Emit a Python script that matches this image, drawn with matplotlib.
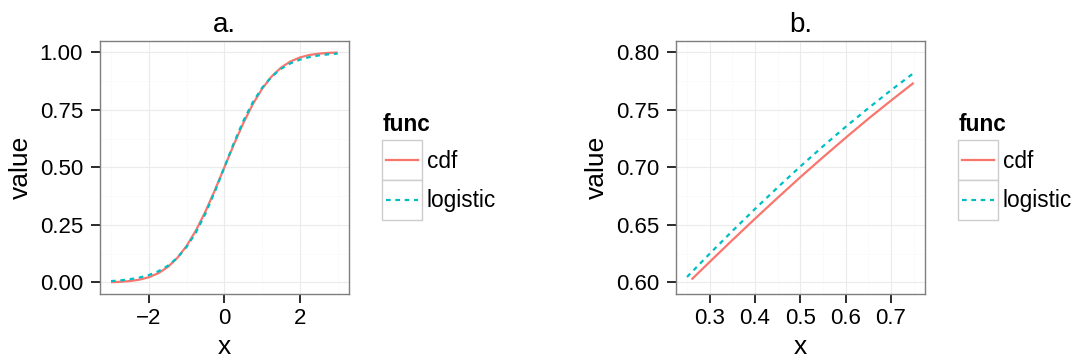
import matplotlib
matplotlib.use("Agg")
import matplotlib.pyplot as plt
from matplotlib.patches import Rectangle
from matplotlib.lines import Line2D

plt.rcParams['font.family'] = ['Liberation Sans', 'DejaVu Sans']

# ---------------- data ----------------
# panel a
xa = [-3.0, -2.75, -2.5, -2.25, -2.0, -1.75, -1.5, -1.25, -1.0, -0.75, -0.5, -0.25, 0.0,
      0.25, 0.5, 0.75, 1.0, 1.25, 1.5, 1.75, 2.0, 2.25, 2.5, 2.75, 3.0]
cdf_a = [0.0013, 0.0030, 0.0062, 0.0122, 0.0228, 0.0401, 0.0668, 0.1056, 0.1587, 0.2266,
         0.3085, 0.4013, 0.5000, 0.5987, 0.6915, 0.7734, 0.8413, 0.8944, 0.9332, 0.9599,
         0.9772, 0.9878, 0.9938, 0.9970, 0.9987]
logistic_a = [0.0060, 0.0092, 0.0140, 0.0213, 0.0322, 0.0484, 0.0722, 0.1064, 0.1542, 0.2181,
              0.2992, 0.3952, 0.5000, 0.6048, 0.7008, 0.7819, 0.8458, 0.8936, 0.9278, 0.9516,
              0.9678, 0.9787, 0.9860, 0.9908, 0.9940]

# panel b
xb_cdf = [0.26, 0.30, 0.35, 0.40, 0.45, 0.50, 0.55, 0.60, 0.65, 0.70, 0.75]
cdf_b = [0.6026, 0.6179, 0.6368, 0.6554, 0.6736, 0.6915, 0.7088, 0.7257, 0.7422, 0.7580, 0.7734]
xb_log = [0.25, 0.30, 0.35, 0.40, 0.45, 0.50, 0.55, 0.60, 0.65, 0.70, 0.75]
logistic_b = [0.6048, 0.6250, 0.6447, 0.6639, 0.6826, 0.7008, 0.7183, 0.7352, 0.7514, 0.7670, 0.7819]

titles = ["a.", "b."]
legend_title = "func"
legend_labels = ["cdf", "logistic"]

# ---------------- style ----------------
W, H = 1074, 358
DPI = 100
RED = "#F8766D"
CYAN = "#00BFC4"
LW = 1.6
DASH = (0, (2.1, 2.1))

fig = plt.figure(figsize=(W / DPI, H / DPI), dpi=DPI)
fig.patch.set_facecolor("white")


def fx(px):
    return px / W


def fy(py):
    return (H - py) / H


def make_axes(left_px):
    left, right, top, bottom = left_px, left_px + 249.3, 40.7, 294.0
    return fig.add_axes([fx(left), fy(bottom), (right - left) / W, (bottom - top) / H])


def style_axes(ax, xlim, ylim, xmaj, xmin, ymaj, ymin, xfmt, yfmt, title):
    ax.set_xlim(*xlim)
    ax.set_ylim(*ylim)
    for v in xmin:
        ax.axvline(v, color="#FAFAFA", lw=0.6, zorder=0)
    for v in ymin:
        ax.axhline(v, color="#FAFAFA", lw=0.6, zorder=0)
    for v in xmaj:
        ax.axvline(v, color="#EBEBEB", lw=0.8, zorder=0.5)
    for v in ymaj:
        ax.axhline(v, color="#EBEBEB", lw=0.8, zorder=0.5)
    ax.set_xticks(xmaj)
    ax.set_xticklabels([xfmt(v) for v in xmaj])
    ax.set_yticks(ymaj)
    ax.set_yticklabels([yfmt(v) for v in ymaj])
    ax.tick_params(axis="both", length=6.5, width=1.3, color="#1A1A1A",
                   labelsize=16, labelcolor="black")
    ax.tick_params(axis="x", pad=3.5)
    ax.tick_params(axis="y", pad=5.5)
    for s in ax.spines.values():
        s.set_color("#7F7F7F")
        s.set_linewidth(1.0)
        s.set_zorder(5)
    ax.set_title(title, fontsize=20, pad=6)
    ax.set_xlabel("x", fontsize=19)
    ax.xaxis.set_label_coords(0.5, -0.237)
    ax.xaxis.label.set_va("baseline")
    ax.set_ylabel("value", fontsize=19)
    ax.yaxis.set_label_coords(-0.316, 0.5)
    ax.yaxis.label.set_va("center")
    ax.yaxis.label.set_ha("center")


def legend(left_px):
    fig.text(fx(left_px + 0.6), fy(130.7), legend_title, fontsize=16.3, fontweight="bold",
             ha="left", va="baseline")
    keys = [(140.0, RED, "-"), (180.0, CYAN, DASH)]
    for (top, color, ls), lab in zip(keys, legend_labels):
        fig.add_artist(Rectangle((fx(left_px), fy(top + 39.5)), 40.3 / W, 39.5 / H,
                                 transform=fig.transFigure, facecolor="white",
                                 edgecolor="#CCCCCC", lw=1.0))
        cy = top + 20
        fig.add_artist(Line2D([fx(left_px + 4), fx(left_px + 36)], [fy(cy), fy(cy)],
                              transform=fig.transFigure, color=color, lw=LW, linestyle=ls))
        fig.text(fx(left_px + 45), fy(cy + 7.5), lab, fontsize=16.3, ha="left", va="baseline")


# ---------------- panel a ----------------
ax1 = make_axes(99.7)
style_axes(ax1, (-3.3, 3.3), (-0.05, 1.05),
           [-2, 0, 2], [-3, -1, 1, 3],
           [0, 0.25, 0.5, 0.75, 1.0], [0.125, 0.375, 0.625, 0.875],
           lambda v: "\u2212" + str(abs(int(v))) if v < 0 else str(int(v)),
           lambda v: f"{v:.2f}", titles[0])
ax1.plot(xa, cdf_a, color=RED, lw=LW, zorder=3, solid_capstyle="butt")
ax1.plot(xa, logistic_a, color=CYAN, lw=LW, linestyle=DASH, zorder=4)
legend(381.7)

# ---------------- panel b ----------------
ax2 = make_axes(675.7)
style_axes(ax2, (0.225, 0.775), (0.59, 0.81),
           [0.3, 0.4, 0.5, 0.6, 0.7], [0.25, 0.35, 0.45, 0.55, 0.65, 0.75],
           [0.60, 0.65, 0.70, 0.75, 0.80], [0.625, 0.675, 0.725, 0.775],
           lambda v: f"{v:.1f}", lambda v: f"{v:.2f}", titles[1])
ax2.plot(xb_cdf, cdf_b, color=RED, lw=LW, zorder=3, solid_capstyle="butt")
ax2.plot(xb_log, logistic_b, color=CYAN, lw=LW, linestyle=DASH, zorder=4)
legend(957.7)

fig.savefig("out.png", dpi=DPI, facecolor="white")
